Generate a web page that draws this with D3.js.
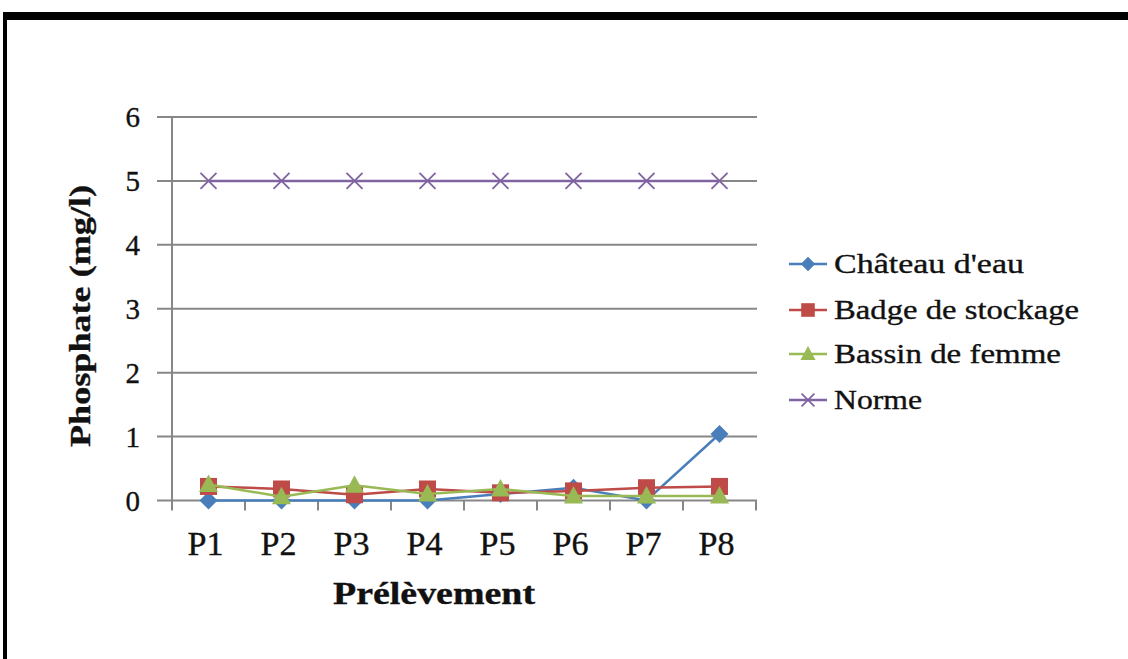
<!DOCTYPE html>
<html>
<head>
<meta charset="utf-8">
<script src="https://cdn.jsdelivr.net/npm/d3@7"></script>
<style>
  html, body { margin: 0; padding: 0; background: #fff; }
  svg { display: block; }
  text { font-family: "Liberation Serif", "Times New Roman", serif; fill: #111; stroke: #111; stroke-width: 0.35px; }
</style>
</head>
<body>
<svg id="chart" width="1128" height="659"></svg>
<script>
// Phosphate concentration per sampling point
const categories = ["P1", "P2", "P3", "P4", "P5", "P6", "P7", "P8"];
const chateauEau = [0, 0, 0, 0, 0.1, 0.2, 0, 1.04];
const badgeStockage = [0.22, 0.18, 0.09, 0.18, 0.12, 0.15, 0.2, 0.22];
const bassinFemme = [0.25, 0.06, 0.24, 0.1, 0.18, 0.07, 0.07, 0.07];
const norme = [5, 5, 5, 5, 5, 5, 5, 5];
const yTicks = [0, 1, 2, 3, 4, 5, 6];
const seriesNames = ["Château d'eau", "Badge de stockage", "Bassin de femme", "Norme"];

const series = [
  { name: seriesNames[0], values: chateauEau, color: "#4a7ebb", marker: "diamond" },
  { name: seriesNames[1], values: badgeStockage, color: "#be4b48", marker: "square" },
  { name: seriesNames[2], values: bassinFemme, color: "#98b954", marker: "triangle" },
  { name: seriesNames[3], values: norme, color: "#8064a2", marker: "cross" }
];

const svg = d3.select("#chart");

// frame edges
svg.append("rect").attr("x", 3).attr("y", 12).attr("width", 1125).attr("height", 8).attr("fill", "#000");
svg.append("rect").attr("x", 3).attr("y", 12).attr("width", 4).attr("height", 647).attr("fill", "#000");

const plot = { left: 172, right: 756, top: 117, bottom: 500.5 };

const x = d3.scaleBand().domain(categories).range([plot.left, plot.right]).padding(0);
const y = d3.scaleLinear().domain([0, 6]).range([plot.bottom, plot.top]);
const cx = d => x(d) + x.bandwidth() / 2;

const gridColor = "#878787";

// horizontal gridlines with left tick stubs
svg.append("g").selectAll("line").data(yTicks).join("line")
  .attr("x1", plot.left - 15).attr("x2", plot.right + 1)
  .attr("y1", d => y(d)).attr("y2", d => y(d))
  .attr("stroke", gridColor).attr("stroke-width", 2);

// vertical axis line
svg.append("line")
  .attr("x1", plot.left).attr("x2", plot.left)
  .attr("y1", y(6)).attr("y2", plot.bottom + 10)
  .attr("stroke", gridColor).attr("stroke-width", 2);

// category boundary ticks on the horizontal axis
const edges = categories.map(d => x(d)).concat([x(categories[categories.length - 1]) + x.bandwidth()]);
svg.append("g").selectAll("line").data(edges.slice(1)).join("line")
  .attr("x1", d => d).attr("x2", d => d)
  .attr("y1", plot.bottom).attr("y2", plot.bottom + 10)
  .attr("stroke", gridColor).attr("stroke-width", 2);

// y tick labels
svg.append("g").selectAll("text").data(yTicks).join("text")
  .attr("x", 140).attr("y", d => y(d))
  .attr("dy", "0.35em")
  .attr("text-anchor", "end")
  .style("font-size", "29px")
  .text(d => d);

// x tick labels
svg.append("g").selectAll("text").data(categories).join("text")
  .attr("x", d => cx(d) - 3).attr("y", 555)
  .attr("text-anchor", "middle")
  .attr("textLength", 36).attr("lengthAdjust", "spacingAndGlyphs")
  .style("font-size", "33px")
  .text(d => d);

// axis titles
svg.append("text")
  .attr("x", 434).attr("y", 604)
  .attr("text-anchor", "middle")
  .attr("textLength", 202).attr("lengthAdjust", "spacingAndGlyphs")
  .style("font-size", "31px").style("font-weight", "bold")
  .text("Prélèvement");

svg.append("text")
  .attr("transform", "translate(90,316) rotate(-90)")
  .attr("text-anchor", "middle")
  .attr("textLength", 262).attr("lengthAdjust", "spacingAndGlyphs")
  .style("font-size", "30px").style("font-weight", "bold")
  .text("Phosphate (mg/l)");

// marker drawing
function drawMarker(g, type, color, px, py, k) {
  if (type === "diamond") {
    const r = 9 * k;
    g.append("path")
      .attr("d", `M${px},${py - r}L${px + r},${py}L${px},${py + r}L${px - r},${py}Z`)
      .attr("fill", color);
  } else if (type === "square") {
    const h = 8.5 * k;
    g.append("rect").attr("x", px - h).attr("y", py - h)
      .attr("width", 2 * h).attr("height", 2 * h).attr("fill", color);
  } else if (type === "triangle") {
    g.append("path")
      .attr("d", `M${px},${py - 10 * k}L${px + 9.5 * k},${py + 7.5 * k}L${px - 9.5 * k},${py + 7.5 * k}Z`)
      .attr("fill", color);
  } else if (type === "cross") {
    const c = 8 * k;
    g.append("path")
      .attr("d", `M${px - c},${py - c}L${px + c},${py + c}M${px - c},${py + c}L${px + c},${py - c}`)
      .attr("stroke", color).attr("stroke-width", 1.8).attr("fill", "none");
  }
}

const line = d3.line().x(d => cx(d.cat)).y(d => y(d.v));

series.forEach(s => {
  const pts = categories.map((c, i) => ({ cat: c, v: s.values[i] }));
  const g = svg.append("g");
  g.append("path").datum(pts)
    .attr("d", line)
    .attr("fill", "none")
    .attr("stroke", s.color)
    .attr("stroke-width", 2.5);
  pts.forEach(p => drawMarker(g, s.marker, s.color, cx(p.cat), y(p.v), 1));
});

// legend
const legendWidths = [190, 245, 227, 88];
const legendY = [264, 310, 354, 400];
const legend = svg.append("g");
series.forEach((s, i) => {
  const ly = legendY[i];
  legend.append("line")
    .attr("x1", 789).attr("x2", 827).attr("y1", ly).attr("y2", ly)
    .attr("stroke", s.color).attr("stroke-width", 2.5);
  drawMarker(legend, s.marker, s.color, 808, ly, 0.8);
  legend.append("text")
    .attr("x", 834).attr("y", ly).attr("dy", "0.33em")
    .attr("textLength", legendWidths[i]).attr("lengthAdjust", "spacingAndGlyphs")
    .style("font-size", "27px")
    .text(s.name);
});
</script>
</body>
</html>
